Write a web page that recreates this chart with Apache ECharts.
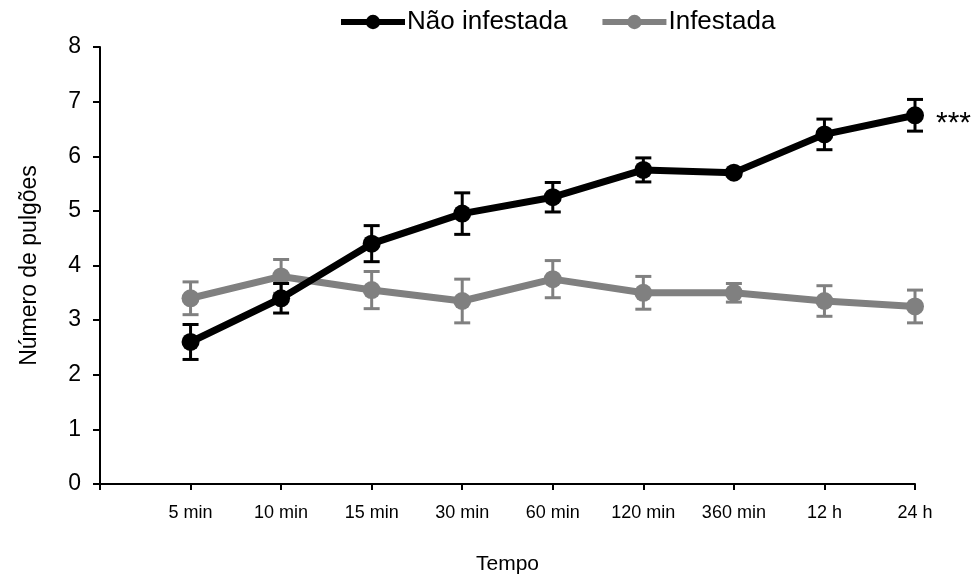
<!DOCTYPE html>
<html>
<head>
<meta charset="utf-8">
<script src="https://cdn.jsdelivr.net/npm/echarts@6/dist/echarts.min.js"></script>
<style>
  html, body { margin: 0; padding: 0; background: #fff; }
  #chart { width: 978px; height: 577px; }
</style>
</head>
<body>
<div id="chart"></div>
<script>
// Time points (first slot left empty so the series start one step from the y axis)
const categories = ['', '5 min', '10 min', '15 min', '30 min', '60 min', '120 min', '360 min', '12 h', '24 h'];

// Mean aphid counts
const naoInfestada = [2.6, 3.4, 4.4, 4.95, 5.25, 5.75, 5.7, 6.4, 6.75];
const infestada    = [3.4, 3.8, 3.55, 3.35, 3.75, 3.5, 3.5, 3.35, 3.25];

// Standard errors
const naoInfestadaErr = [0.32, 0.27, 0.33, 0.38, 0.27, 0.22, 0.06, 0.28, 0.29];
const infestadaErr    = [0.30, 0.31, 0.34, 0.40, 0.34, 0.30, 0.17, 0.28, 0.30];

const BLACK = '#000000';
const GRAY = '#808080';
const FONT = '"Liberation Sans", Arial, sans-serif';

// Series values are placed at category indices 1..9
function lineData(values) {
  return values.map((v, i) => [i + 1, v]);
}
function errData(values, errs) {
  return values.map((v, i) => [i + 1, v - errs[i], v + errs[i]]);
}

function errorBarSeries(values, errs, color, z) {
  return {
    type: 'custom',
    z: z,
    silent: true,
    data: errData(values, errs),
    renderItem: function (params, api) {
      const x = api.value(0);
      const lo = api.coord([x, api.value(1)]);
      const hi = api.coord([x, api.value(2)]);
      const half = 8;
      const style = { stroke: color, lineWidth: 3, fill: null };
      return {
        type: 'group',
        children: [
          { type: 'line', shape: { x1: lo[0], y1: lo[1], x2: hi[0], y2: hi[1] }, style: style },
          { type: 'line', shape: { x1: lo[0] - half, y1: lo[1], x2: lo[0] + half, y2: lo[1] }, style: style },
          { type: 'line', shape: { x1: hi[0] - half, y1: hi[1], x2: hi[0] + half, y2: hi[1] }, style: style }
        ]
      };
    }
  };
}

const chart = echarts.init(document.getElementById('chart'), null, { renderer: 'canvas' });

chart.setOption({
  animation: false,
  backgroundColor: '#ffffff',
  legend: {
    top: 4,
    left: 333,
    itemWidth: 64,
    itemHeight: 18,
    itemGap: 32,
    lineStyle: { width: 6 },
    textStyle: { fontFamily: FONT, fontSize: 26, color: '#000', padding: [0, 0, 0, -3] },
    data: ['Não infestada', 'Infestada']
  },
  grid: { left: 100, right: 63, top: 47, bottom: 93, containLabel: false, outerBoundsMode: 'none' },
  xAxis: {
    type: 'category',
    data: categories,
    boundaryGap: false,
    name: 'Tempo',
    nameLocation: 'middle',
    nameGap: 70,
    nameTextStyle: { fontFamily: FONT, fontSize: 21, color: '#000' },
    axisLine: { lineStyle: { color: '#000', width: 2 } },
    axisTick: { show: true, inside: false, length: 6, interval: 0, lineStyle: { color: '#000', width: 2 } },
    axisLabel: {
      interval: 0,
      margin: 20,
      fontFamily: FONT,
      fontSize: 18,
      color: '#000'
    },
    splitLine: { show: false }
  },
  yAxis: {
    type: 'value',
    min: 0,
    max: 8,
    interval: 1,
    name: 'Número de pulgões',
    nameLocation: 'middle',
    nameGap: 59,
    nameTextStyle: { fontFamily: FONT, fontSize: 23, color: '#000' },
    axisLine: { show: true, lineStyle: { color: '#000', width: 2 } },
    axisTick: { show: true, inside: false, length: 7, lineStyle: { color: '#000', width: 2 } },
    axisLabel: { margin: 19, fontFamily: FONT, fontSize: 23, color: '#000' },
    splitLine: { show: false }
  },
  series: [
    errorBarSeries(infestada, infestadaErr, GRAY, 2),
    {
      name: 'Infestada',
      type: 'line',
      z: 3,
      data: lineData(infestada),
      symbol: 'circle',
      symbolSize: 18,
      lineStyle: { color: GRAY, width: 7 },
      itemStyle: { color: GRAY },
      emphasis: { disabled: true }
    },
    errorBarSeries(naoInfestada, naoInfestadaErr, BLACK, 4),
    {
      name: 'Não infestada',
      type: 'line',
      z: 5,
      data: lineData(naoInfestada).map((d, i, arr) => i === arr.length - 1
        ? {
            value: d,
            label: {
              show: true,
              position: 'right',
              distance: 12,
              offset: [0, 8],
              formatter: '***',
              fontFamily: FONT,
              fontSize: 30,
              color: '#000'
            }
          }
        : d),
      symbol: 'circle',
      symbolSize: 18,
      lineStyle: { color: BLACK, width: 7 },
      itemStyle: { color: BLACK },
      emphasis: { disabled: true }
    }
  ]
});
</script>
</body>
</html>
